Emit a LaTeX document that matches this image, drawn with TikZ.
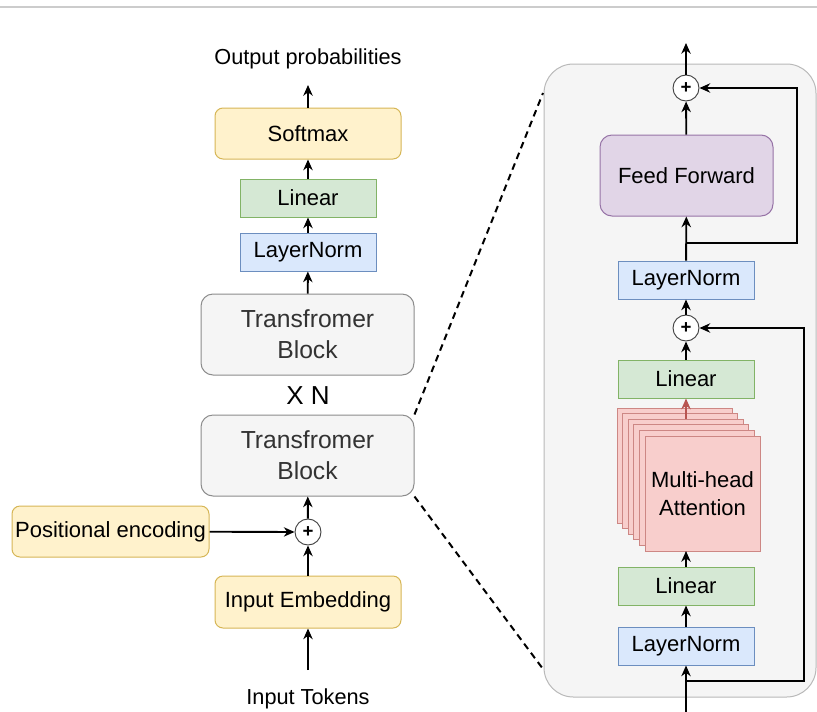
\documentclass[tikz,border=0pt]{standalone}
\usepackage{fontspec}
\setmainfont{Liberation Sans}
\usetikzlibrary{arrows.meta}
\definecolor{colyelf}{HTML}{FFF2CC}
\definecolor{colyeld}{HTML}{D6B656}
\definecolor{colgrnf}{HTML}{D5E8D4}
\definecolor{colgrnd}{HTML}{82B366}
\definecolor{colbluf}{HTML}{DAE8FC}
\definecolor{colblud}{HTML}{6C8EBF}
\definecolor{colgryf}{HTML}{F5F5F5}
\definecolor{colgryd}{HTML}{8C8C8C}
\definecolor{colgryt}{HTML}{333333}
\definecolor{colpurf}{HTML}{E1D5E7}
\definecolor{colpurd}{HTML}{9673A6}
\definecolor{colredf}{HTML}{F8CECC}
\definecolor{colredd}{HTML}{B85450}
\tikzstyle{box}=[rectangle, line width=0.75pt, align=center, inner sep=0pt, font=\fontsize{16.5}{21}\selectfont]
\tikzstyle{yellowbox}=[box, rounded corners=6pt, fill=colyelf, draw=colyeld]
\tikzstyle{linbox}=[box, fill=colgrnf, draw=colgrnd, minimum width=102pt, minimum height=28.5pt]
\tikzstyle{normbox}=[box, fill=colbluf, draw=colblud, minimum width=102pt, minimum height=28.5pt]
\tikzstyle{blockbox}=[box, rounded corners=9pt, fill=colgryf, draw=colgryd, text=colgryt, minimum width=159.75pt, minimum height=60.75pt, font=\fontsize{18.5}{23}\selectfont]
\tikzstyle{attbox}=[box, fill=colredf, draw=colredd!70, minimum width=86.25pt, minimum height=86.25pt]
\tikzstyle{adder}=[circle, draw=black!75, fill=white, line width=0.7pt, minimum size=19.5pt, inner sep=0pt, font=\fontsize{14}{14}\selectfont\bfseries]
\tikzstyle{labelsty}=[font=\fontsize{16.3}{20}\selectfont]
\tikzstyle{edge}=[line width=1.4pt, -{Stealth[length=8pt,width=7pt,inset=2.5pt]}]
\tikzstyle{zoomline}=[line width=1.5pt, dash pattern=on 5pt off 3.6pt]

\begin{document}
\begin{tikzpicture}[x=0.75pt, y=-0.75pt]
  \useasboundingbox (0,0) rectangle (817,711);
  \draw[gray!40, line width=1.5pt] (0,7) -- (817,7);

  % Stacked model
  \node[labelsty] (outp) at (308,59) {Output probabilities};
  \coordinate (outtip) at (308,85);
  \node[yellowbox, minimum width=139.5pt, minimum height=38.25pt] (softmax) at (308,133.5) {Softmax};
  \node[linbox] (lin) at (308,198) {Linear};
  \node[normbox] (norm) at (308,252) {LayerNorm};
  \node[blockbox] (blk2) at (307.5,334.5) {Transfromer\\Block};
  \node[font=\fontsize{19.5}{20}\selectfont] (xn) at (308,396) {X N};
  \node[blockbox] (blk1) at (307.5,455.5) {Transfromer\\Block};
  \node[adder] (add) at (308,532) {+};
  \node[yellowbox, minimum width=147.75pt, minimum height=38.25pt] (posenc) at (110.5,531.5) {Positional encoding};
  \node[yellowbox, minimum width=139.5pt, minimum height=39pt] (embed) at (308,602) {Input Embedding};
  \coordinate (tokin) at (308,670);
  \node[labelsty] (tok) at (308,699) {Input Tokens};

  \draw[edge] (tokin) -- (embed);
  \draw[edge] (embed) -- (add);
  \draw[edge] (posenc) -- (add);
  \draw[edge] (add) -- (blk1);
  \draw[edge] (blk2) -- (norm);
  \draw[edge] (norm) -- (lin);
  \draw[edge] (lin) -- (softmax);
  \draw[edge] (softmax) -- (outtip);

  % Inside one block
  \draw[draw=gray!55, fill=colgryf, line width=0.75pt, rounded corners=22pt] (544,64) rectangle (816,697);
  \coordinate (panelnw) at (543,93);
  \coordinate (panelsw) at (543,669);
  \draw[zoomline] (blk1.north east) -- (panelnw);
  \draw[zoomline] (blk1.south east) -- (panelsw);

  \coordinate (blkin) at (686,712);
  \node[normbox] (norm1) at (686,646) {LayerNorm};
  \node[linbox] (lin1) at (686,586) {Linear};
  \foreach \i in {0,...,4}
    \node[attbox] (head\i) at (674.5+5.6*\i,465.5+5.6*\i) {};
  \node[attbox] (mha) at (702.5,493.5) {Multi-head\\Attention};
  \coordinate (mhaout) at (686,419);
  \node[linbox] (lin2) at (686,379) {Linear};
  \node[adder] (add2) at (686,328) {+};
  \node[normbox] (norm2) at (686,280) {LayerNorm};
  \node[box, rounded corners=9pt, fill=colpurf, draw=colpurd, minimum width=129.75pt, minimum height=60.75pt] (ff) at (686.5,175.5) {Feed Forward};
  \node[adder] (add3) at (686,88) {+};
  \coordinate (blkout) at (686,43);
  \coordinate (skip1) at (686,681);
  \coordinate (skip2) at (686,243);

  \draw[edge] (blkin) -- (norm1);
  \draw[edge] (norm1) -- (lin1);
  \draw[edge] (lin1) -- (686,551);
  \draw[edge, colredd] (mhaout) -- (lin2);
  \draw[edge] (lin2) -- (add2);
  \draw[edge] (add2) -- (norm2);
  \draw[edge] (norm2) -- (ff);
  \draw[edge] (ff) -- (add3);
  \draw[edge] (add3) -- (blkout);
  \draw[edge] (skip1) -- ++(118,0) |- (add2);
  \draw[edge] (skip2) -- ++(111,0) |- (add3);
\end{tikzpicture}
\end{document}
